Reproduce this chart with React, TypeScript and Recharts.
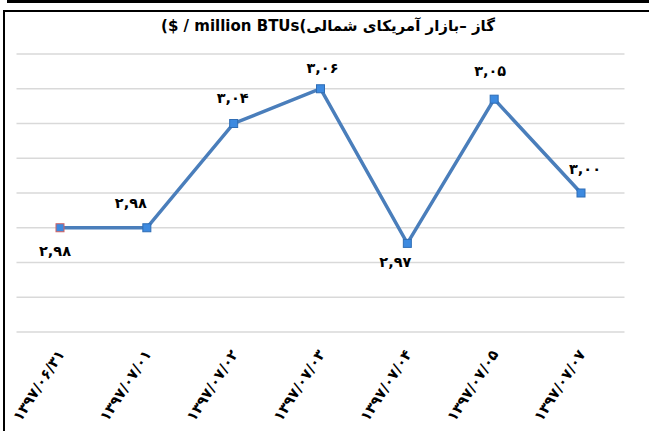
import React from "react";
import { LineChart, Line, XAxis, YAxis, CartesianGrid, LabelList } from "recharts";

const categories = ["1397/06/31", "1397/07/01", "1397/07/02", "1397/07/03", "1397/07/04", "1397/07/05", "1397/07/07"];
const prices = [2.98, 2.98, 3.04, 3.06, 2.971, 3.054, 3.0];
const yTicks = [2.92, 2.94, 2.96, 2.98, 3.0, 3.02, 3.04, 3.06, 3.08];
const titleLatin = "($ / million BTUs(";
const titlePersian = "گاز –بازار آمریکای شمالی";

// label placement per point (style only)
const labelOffsets = [
  [-5, 23],
  [-16, -25],
  [-1, -26],
  [2, -21],
  [-12, 19],
  [-4, -28],
  [4, -24],
];

const data = categories.map((c, i) => ({ date: c, price: prices[i] }));

const faDigits = "۰۱۲۳۴۵۶۷۸۹";
const toFa = (s: string) => s.replace(/[0-9]/g, (d) => faDigits[Number(d)]);

const FONT = "'DejaVu Sans', sans-serif";

const Tick = (props: any) => {
  const { x, y, payload } = props;
  return (
    <g transform={`translate(${x + 5},${y + 14})`}>
      <text
        textAnchor="end"
        transform="rotate(-57)"
        fontSize={14.5}
        fontWeight="bold"
        fontFamily={FONT}
        fill="#000"
        direction="ltr"
      >
        {toFa(payload.value)}
      </text>
    </g>
  );
};

const Dot = (props: any) => {
  const { cx, cy, index } = props;
  if (cx == null || cy == null) return null;
  return (
    <rect
      key={`d${index}`}
      x={cx - 4}
      y={cy - 4}
      width={8}
      height={8}
      fill="#3d8ae0"
      stroke={index === 0 ? "#d06060" : "#2f6db5"}
      strokeWidth={1}
    />
  );
};

const ValueLabel = (props: any) => {
  const { x, y, value, index } = props;
  const [dx, dy] = labelOffsets[index];
  return (
    <text
      x={x + dx}
      y={y + dy}
      textAnchor="middle"
      dominantBaseline="central"
      fontSize={14.5}
      fontWeight="bold"
      fontFamily={FONT}
      fill="#000"
      direction="ltr"
    >
      {toFa(Number(value).toFixed(2).replace(".", ","))}
    </text>
  );
};

export default function App() {
  return (
    <div style={{ position: "absolute", left: 0, top: 0, width: 649, height: 431, background: "#fff", overflow: "hidden" }}>
      <div style={{ position: "absolute", left: 7, top: 0, width: 642, height: 3, background: "#000" }} />
      <div style={{ position: "absolute", left: 3, top: 10, width: 646, height: 2, background: "#000" }} />
      <div style={{ position: "absolute", left: 3, top: 10, width: 2, height: 421, background: "#000" }} />
      <div
        dir="ltr"
        style={{
          position: "absolute",
          left: 0,
          top: 17,
          width: 656,
          textAlign: "center",
          fontFamily: FONT,
          fontWeight: "bold",
          fontSize: 15,
          color: "#000",
          whiteSpace: "nowrap",
        }}
      >
        {titleLatin}
        {titlePersian}
      </div>
      <LineChart
        width={649}
        height={431}
        data={data}
        margin={{ top: 54, right: 24.5, left: 16.5, bottom: 10 }}
      >
        <CartesianGrid vertical={false} stroke="#d9d9d9" strokeWidth={1.5} />
        <XAxis
          dataKey="date"
          axisLine={false}
          tickLine={false}
          height={89}
          interval={0}
          padding={{ left: 43.5, right: 43.5 }}
          tick={<Tick />}
        />
        <YAxis hide domain={[2.92, 3.08]} ticks={yTicks} />
        <Line
          type="linear"
          dataKey="price"
          stroke="#4a7ebb"
          strokeWidth={3.5}
          dot={<Dot />}
          activeDot={false}
          isAnimationActive={false}
        >
          <LabelList dataKey="price" content={<ValueLabel />} />
        </Line>
      </LineChart>
    </div>
  );
}
